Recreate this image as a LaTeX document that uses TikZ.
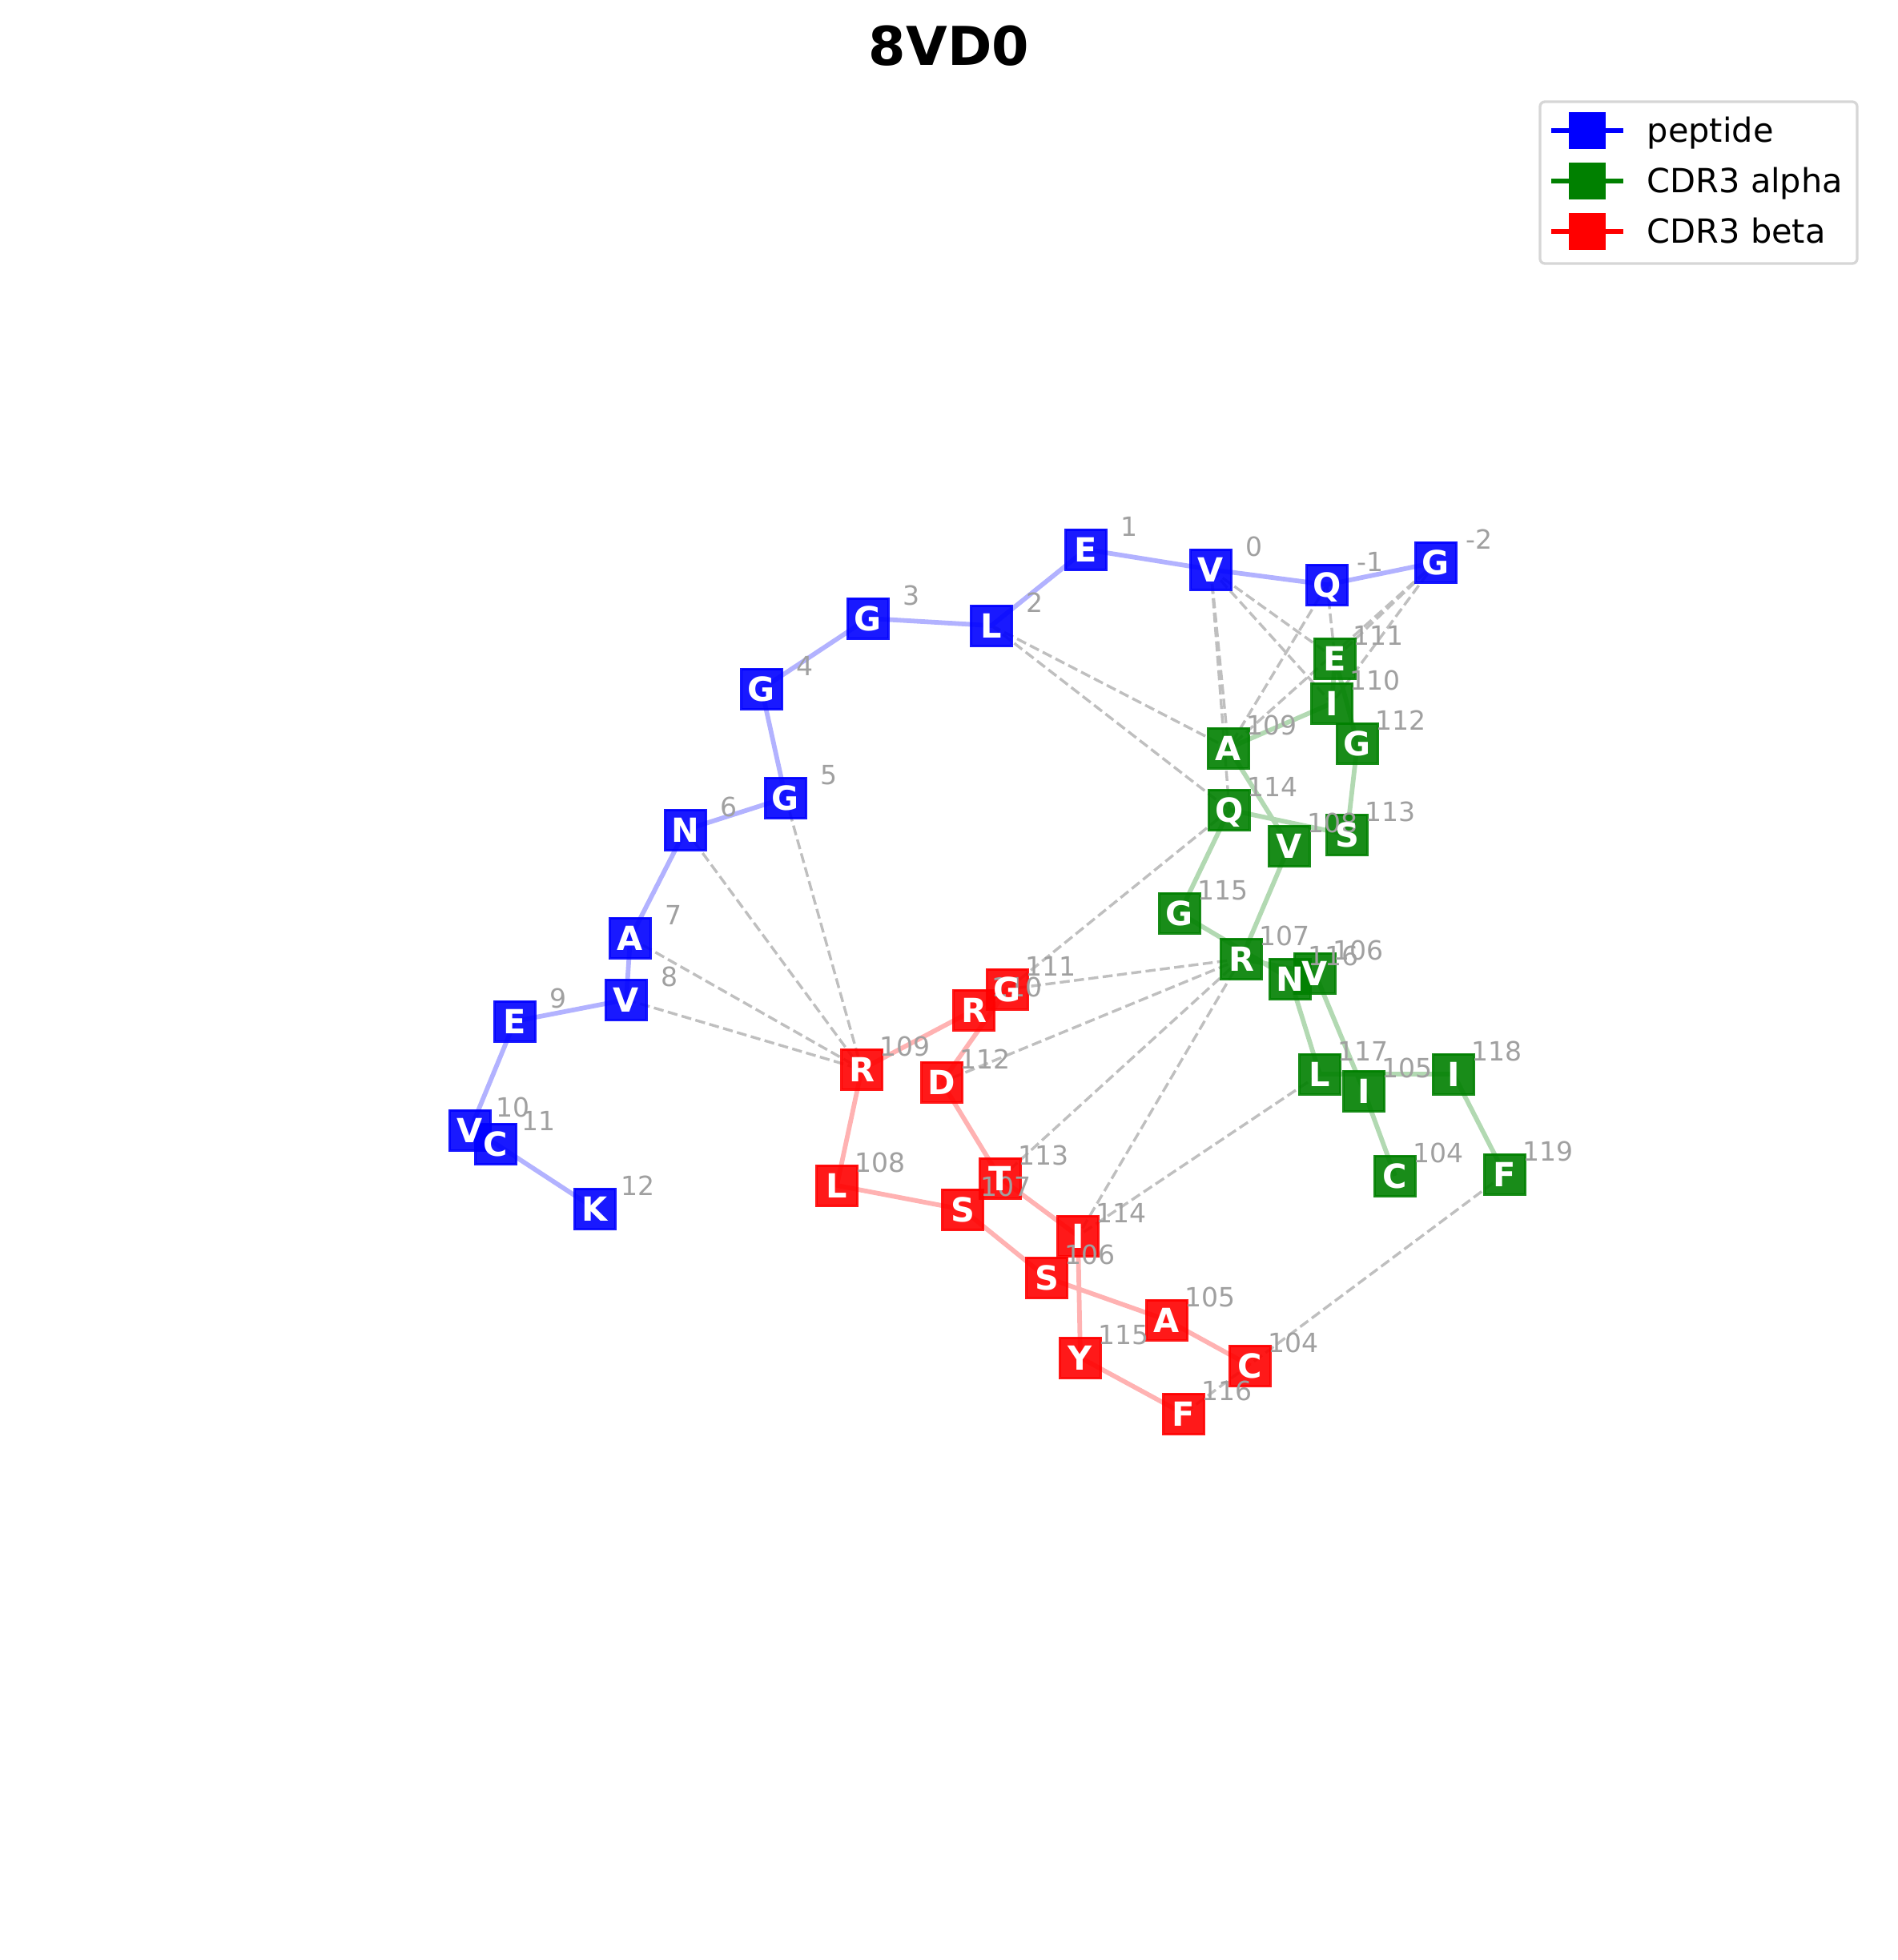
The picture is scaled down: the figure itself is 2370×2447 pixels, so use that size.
\documentclass[tikz,border=0pt]{standalone}
\usepackage{fontspec}
\setmainfont{DejaVu Sans}
\usepackage{tikz}
\definecolor{pepblue}{HTML}{0000FF}
\definecolor{alphagreen}{HTML}{008000}
\definecolor{betared}{HTML}{FF0000}
\definecolor{numgray}{HTML}{A0A0A0}
\definecolor{contactgray}{HTML}{BFBFBF}
\definecolor{framegray}{HTML}{D6D6D6}
\pgfdeclarelayer{bonds}
\pgfdeclarelayer{boxes}
\pgfdeclarelayer{codes}
\pgfsetlayers{bonds,boxes,main,codes}
% box, residue number, one-letter code
\newcommand{\residue}[6]{%
  \begin{pgfonlayer}{boxes}\node[#1] (#2) at (#3,#4) {};\end{pgfonlayer}
  \node[num] (#2n) at ([shift={(54,-29)}]#2.center) {#6};
  \begin{pgfonlayer}{codes}\node[aa] (#2t) at (#2.center) {#5};\end{pgfonlayer}
}

\begin{document}
\begin{tikzpicture}[x=0.01cm, y=-0.01cm,
  res/.style={rectangle, minimum size=0.5cm, inner sep=0pt, line width=0.03cm,
    fill opacity=0.9, draw opacity=0.9},
  pep/.style={res, fill=pepblue, draw=pepblue},
  cdra/.style={res, fill=alphagreen, draw=alphagreen},
  cdrb/.style={res, fill=betared, draw=betared},
  aa/.style={inner sep=0pt, text=white, font=\bfseries\fontsize{11.8}{12}\selectfont,
    text height=8.6pt, text depth=0pt},
  num/.style={inner sep=0pt, text=numgray, font=\fontsize{9.4}{10}\selectfont,
    text height=6.85pt, text depth=0pt},
  bond/.style={line width=0.058cm, line join=round},
  pepbond/.style={bond, draw=pepblue!30},
  abond/.style={bond, draw=alphagreen!30},
  bbond/.style={bond, draw=betared!30},
  contact/.style={line width=0.034cm, draw=contactgray, dash pattern=on 0.125cm off 0.055cm},
  heading/.style={font=\bfseries\fontsize{19}{22}\selectfont, inner sep=0pt},
  keyline/.style={line width=0.057cm},
  keybox/.style={rectangle, minimum size=0.457cm, inner sep=0pt},
  keytext/.style={anchor=base west, inner sep=0pt, font=\fontsize{11.8}{14}\selectfont}
]
  \useasboundingbox (0,0) rectangle (2370,2447);

  % Title
  \node[heading] (title) at (1185,57) {8VD0};

  % Peptide
  \residue{pep}{pm2}{1793}{702}{G}{-2}
  \residue{pep}{pm1}{1657}{730}{Q}{-1}
  \residue{pep}{p0}{1512}{711}{V}{0}
  \residue{pep}{p1}{1356}{686}{E}{1}
  \residue{pep}{p2}{1238}{781}{L}{2}
  \residue{pep}{p3}{1084}{772}{G}{3}
  \residue{pep}{p4}{951}{860}{G}{4}
  \residue{pep}{p5}{981}{996}{G}{5}
  \residue{pep}{p6}{856}{1036}{N}{6}
  \residue{pep}{p7}{787}{1171}{A}{7}
  \residue{pep}{p8}{782}{1248}{V}{8}
  \residue{pep}{p9}{643}{1275}{E}{9}
  \residue{pep}{p10}{587}{1411}{V}{10}
  \residue{pep}{p11}{619}{1428}{C}{11}
  \residue{pep}{p12}{743}{1509}{K}{12}

  % CDR3 alpha
  \residue{cdra}{a104}{1742}{1468}{C}{104}
  \residue{cdra}{a105}{1703}{1362}{I}{105}
  \residue{cdra}{a106}{1642}{1215}{V}{106}
  \residue{cdra}{a107}{1550}{1197}{R}{107}
  \residue{cdra}{a108}{1610}{1056}{V}{108}
  \residue{cdra}{a109}{1534}{934}{A}{109}
  \residue{cdra}{a110}{1663}{878}{I}{110}
  \residue{cdra}{a111}{1667}{822}{E}{111}
  \residue{cdra}{a112}{1695}{928}{G}{112}
  \residue{cdra}{a113}{1682}{1042}{S}{113}
  \residue{cdra}{a114}{1535}{1011}{Q}{114}
  \residue{cdra}{a115}{1473}{1140}{G}{115}
  \residue{cdra}{a116}{1611}{1222}{N}{116}
  \residue{cdra}{a117}{1648}{1341}{L}{117}
  \residue{cdra}{a118}{1815}{1341}{I}{118}
  \residue{cdra}{a119}{1879}{1466}{F}{119}

  % CDR3 beta
  \residue{cdrb}{b104}{1561}{1705}{C}{104}
  \residue{cdrb}{b105}{1457}{1648}{A}{105}
  \residue{cdrb}{b106}{1307}{1595}{S}{106}
  \residue{cdrb}{b107}{1202}{1510}{S}{107}
  \residue{cdrb}{b108}{1045}{1480}{L}{108}
  \residue{cdrb}{b109}{1076}{1335}{R}{109}
  \residue{cdrb}{b110}{1216}{1261}{R}{110}
  \residue{cdrb}{b111}{1258}{1235}{G}{111}
  \residue{cdrb}{b112}{1176}{1351}{D}{112}
  \residue{cdrb}{b113}{1249}{1471}{T}{113}
  \residue{cdrb}{b114}{1346}{1543}{I}{114}
  \residue{cdrb}{b115}{1349}{1695}{Y}{115}
  \residue{cdrb}{b116}{1478}{1765}{F}{116}

  \begin{pgfonlayer}{bonds}
  % Contacts
  \draw[contact] (p0.center) -- (a109.center);
  \draw[contact] (p0.center) -- (a114.center);
  \draw[contact] (p0.center) -- (a111.center);
  \draw[contact] (p0.center) -- (a110.center);
  \draw[contact] (pm1.center) -- (a111.center);
  \draw[contact] (pm1.center) -- (a109.center);
  \draw[contact] (pm2.center) -- (a111.center);
  \draw[contact] (pm2.center) -- (a109.center);
  \draw[contact] (pm2.center) -- (a110.center);
  \draw[contact] (p2.center) -- (a109.center);
  \draw[contact] (p2.center) -- (a114.center);
  \draw[contact] (p5.center) -- (b109.center);
  \draw[contact] (p6.center) -- (b109.center);
  \draw[contact] (p7.center) -- (b109.center);
  \draw[contact] (p8.center) -- (b109.center);
  \draw[contact] (a114.center) -- (b111.center);
  \draw[contact] (a107.center) -- (b111.center);
  \draw[contact] (a107.center) -- (b112.center);
  \draw[contact] (a107.center) -- (b113.center);
  \draw[contact] (a107.center) -- (b114.center);
  \draw[contact] (a117.center) -- (b114.center);
  \draw[contact] (a119.center) -- (b116.center);

  % Chain bonds
  \draw[pepbond] (pm2.center) -- (pm1.center) -- (p0.center) -- (p1.center) -- (p2.center)
    -- (p3.center) -- (p4.center) -- (p5.center) -- (p6.center) -- (p7.center) -- (p8.center)
    -- (p9.center) -- (p10.center) -- (p11.center) -- (p12.center);
  \draw[abond] (a104.center) -- (a105.center) -- (a106.center) -- (a107.center) -- (a108.center)
    -- (a109.center) -- (a110.center) -- (a111.center) -- (a112.center) -- (a113.center)
    -- (a114.center) -- (a115.center) -- (a116.center) -- (a117.center) -- (a118.center)
    -- (a119.center);
  \draw[bbond] (b104.center) -- (b105.center) -- (b106.center) -- (b107.center) -- (b108.center)
    -- (b109.center) -- (b110.center) -- (b111.center) -- (b112.center) -- (b113.center)
    -- (b114.center) -- (b115.center) -- (b116.center);
  \end{pgfonlayer}

  % Legend
  \draw[line width=0.033cm, draw=framegray, rounded corners=0.06cm] (1923,127) rectangle (2319,329);
  \draw[keyline, pepblue] (1937,163) -- (2027,163);
  \node[keybox, fill=pepblue] (kpep) at (1982,163) {};
  \node[keytext] (tpep) at (2056,177) {peptide};
  \draw[keyline, alphagreen] (1937,226) -- (2027,226);
  \node[keybox, fill=alphagreen] (kalpha) at (1982,226) {};
  \node[keytext] (talpha) at (2056,240) {CDR3 alpha};
  \draw[keyline, betared] (1937,289) -- (2027,289);
  \node[keybox, fill=betared] (kbeta) at (1982,289) {};
  \node[keytext] (tbeta) at (2056,303) {CDR3 beta};
\end{tikzpicture}
\end{document}
